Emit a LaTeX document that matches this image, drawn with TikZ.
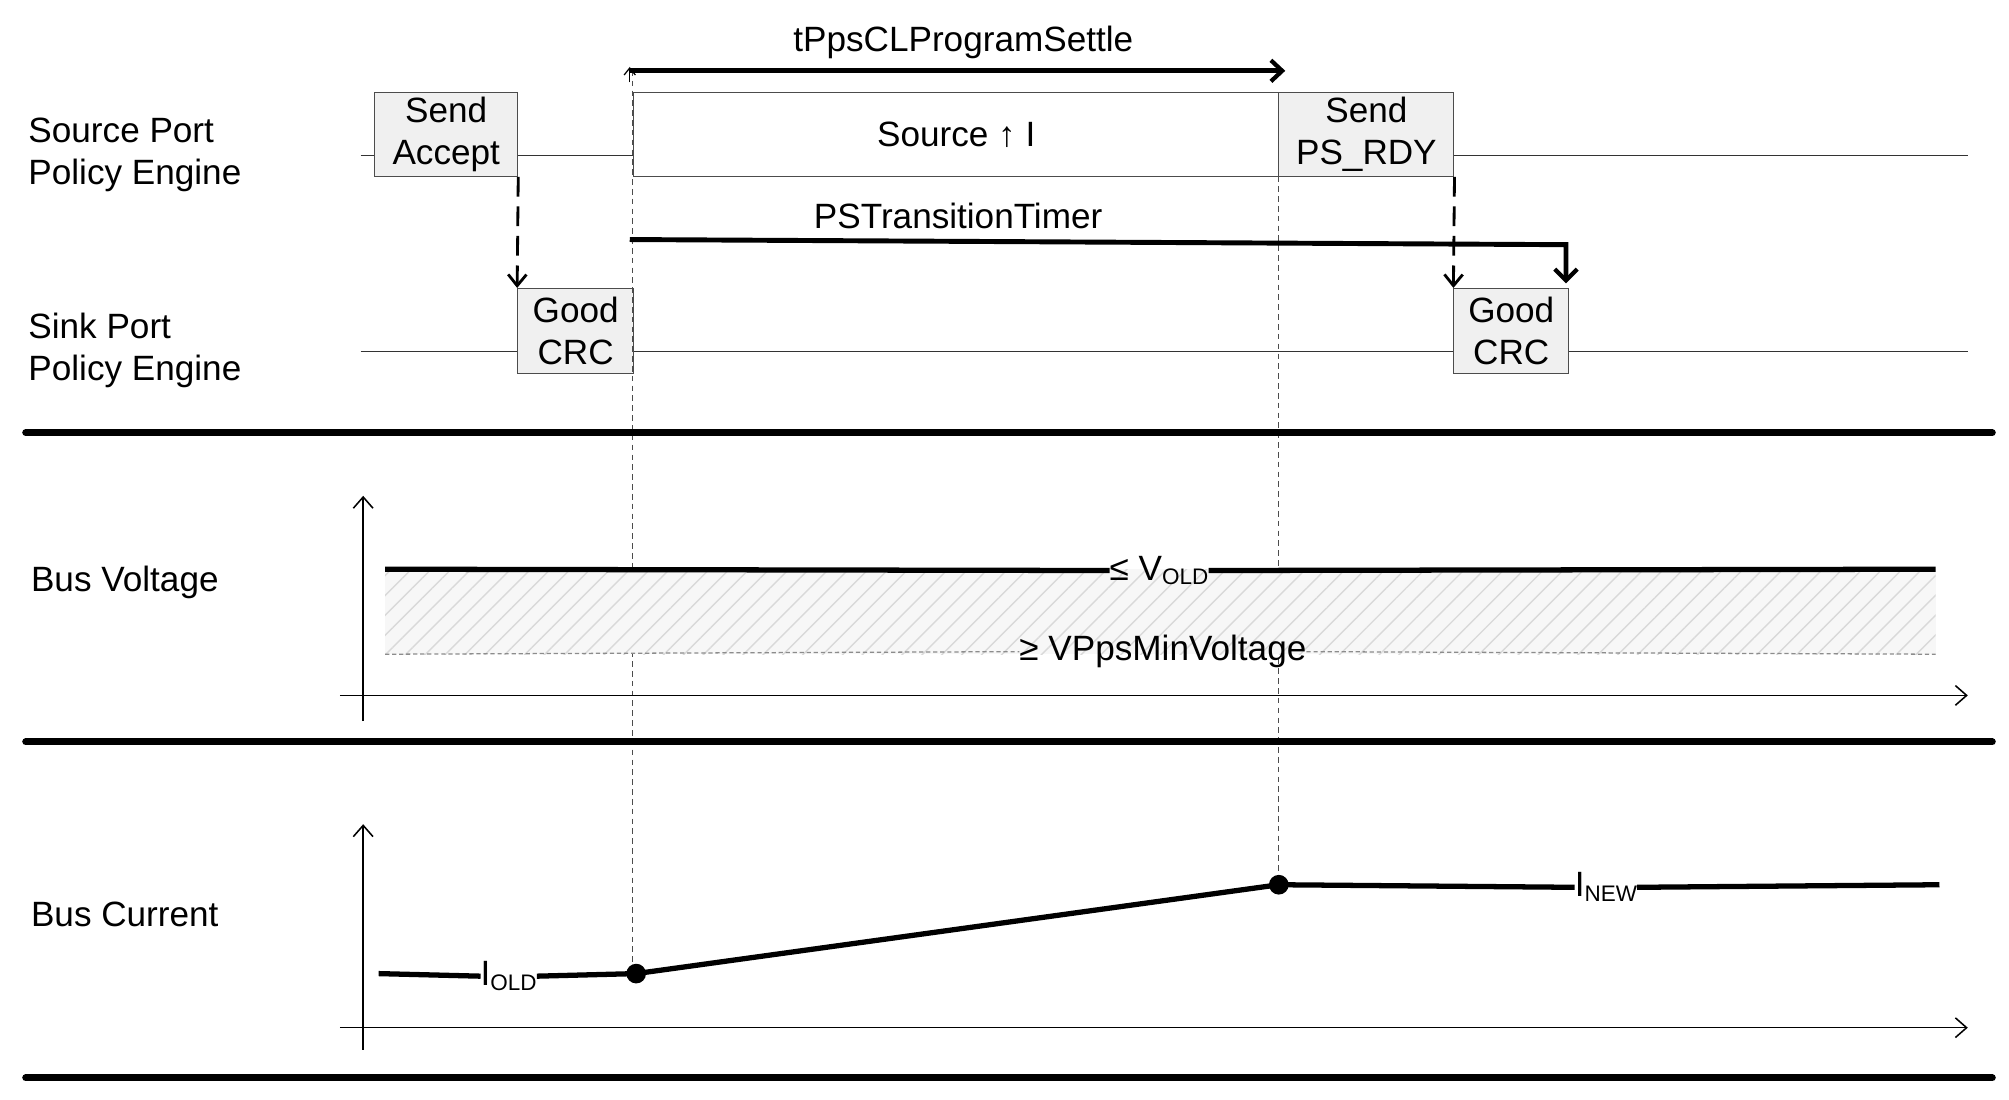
\documentclass[tikz,border=0pt]{standalone}
\usepackage{fontspec}
\setmainfont{Liberation Sans}
\usetikzlibrary{arrows.meta,patterns.meta}
\newcommand\subtx[1]{\raisebox{-7pt}{\fontsize{32}{38}\selectfont #1}}
\begin{document}
\begin{tikzpicture}[x=0.0644cm,y=-0.0644cm,
  txt/.style={font=\fontsize{50}{60}\selectfont,inner sep=0pt,align=center},
  lbl/.style={txt,anchor=west,align=left},
  msg/.style={draw=black!70,line width=1.5pt,fill=black!6,inner sep=0pt,txt},
  thin/.style={line width=1.8pt,black!80},
  sep/.style={line width=10pt,line cap=round},
  vdash/.style={dash pattern=on 8pt off 6pt,line width=1.6pt,black!70},
  mdash/.style={dash pattern=on 28pt off 14pt,line width=4pt,-{Straight Barb[length=16pt,width=26pt,line width=4pt]}},
  timer/.style={line width=7pt},
  sig/.style={line width=7.5pt},
  axis/.style={line width=2.2pt,-{Straight Barb[length=16pt,width=28pt,line width=2.2pt]}},
  dot/.style={circle,fill=black,inner sep=0pt,minimum size=28pt}]
\useasboundingbox (0,0) rectangle (1560,854);
% labels
\node[lbl] (srcl) at (22,120) {Source Port\\Policy Engine};
\node[lbl] (snkl) at (22,272) {Sink Port\\Policy Engine};
\node[lbl] (bvl) at (24,452) {Bus Voltage};
\node[lbl] (bcl) at (24,710) {Bus Current};
% lanes
\coordinate (s0) at (280,121); \coordinate (s1) at (1528,121);
\coordinate (k0) at (280,273); \coordinate (k1) at (1528,273);
\draw[thin] (s0) -- (s1);
\draw[thin] (k0) -- (k1);
% boxes
\node[msg,minimum width=111*0.0644cm,minimum height=65*0.0644cm] (acc) at (346.5,104.5) {Send\\Accept};
\node[msg,minimum width=90*0.0644cm,minimum height=66*0.0644cm] (gc1) at (447,257) {Good\\CRC};
\node[msg,fill=white,minimum width=501*0.0644cm,minimum height=65*0.0644cm] (src) at (742.5,104.5) {Source ↑ I};
\node[msg,minimum width=136*0.0644cm,minimum height=65*0.0644cm] (rdy) at (1061,104.5) {Send\\PS\_RDY};
\node[msg,minimum width=89*0.0644cm,minimum height=66*0.0644cm] (gc2) at (1173.5,257) {Good\\CRC};
% message arrows
\draw[mdash] (acc.south east) -- (gc1.north west);
\draw[mdash] (rdy.south east) -- (gc2.north west);
% vertical dashed guides
\coordinate (g1t) at (491,55); \coordinate (g1b) at (491,756);
\coordinate (g2t) at (993,137); \coordinate (g2b) at (993,687);
\draw[vdash] (g1t) -- (g1b);
\draw[vdash] (g2t) -- (g2b);
% timers
\coordinate (t1a) at (489,64); \coordinate (t1z) at (489,52);
\coordinate (t1b) at (489,55); \coordinate (t1c) at (998,55);
\draw[line width=1.8pt,-{Straight Barb[length=10pt,width=16pt,line width=1.8pt]}] (t1a) -- (t1z);
\draw[timer,-{Straight Barb[length=16pt,width=30pt,line width=6pt]}] (t1b) -- (t1c);
\node[txt] (tps) at (748,33) {tPpsCLProgramSettle};
\coordinate (t2a) at (489,186); \coordinate (t2b) at (1216,190); \coordinate (t2c) at (1216,220);
\draw[timer,-{Straight Barb[length=16pt,width=32pt,line width=6pt]}] (t2a) -- (t2b) -- (t2c);
\node[txt] (pst) at (744,168) {PSTransitionTimer};
% separators
\draw[sep] (20,336) -- (1547,336);
\draw[sep] (20,576) -- (1547,576);
\draw[sep] (20,837) -- (1547,837);
% voltage
\fill[black!3] (299,442) rectangle (1503,508);
\fill[pattern={Lines[angle=45,distance=20pt,line width=2pt]},pattern color=black!15] (299,442) rectangle (1503,508);
\draw[axis] (282,560) -- (282,385);
\draw[axis] (264,540) -- (1528,540);
\node[txt] (vold) at (900,443) {≤ V\subtx{OLD}};
\draw[sig] (299,442) -- (vold.west);
\draw[sig] (vold.east) -- (1503,442);
\node[txt] (vmin) at (903,506) {≥ VPpsMinVoltage};
\draw[dash pattern=on 6pt off 4pt,line width=1.8pt,black!45] (299,508) -- (vmin.west);
\draw[dash pattern=on 6pt off 4pt,line width=1.8pt,black!45] (vmin.east) -- (1503,508);
% current
\draw[axis] (282,815) -- (282,640);
\draw[axis] (264,798) -- (1528,798);
\node[dot] (d1) at (494,756) {};
\node[dot] (d2) at (993,687) {};
\node[txt] (iold) at (395,758) {I\subtx{OLD}};
\node[txt] (inew) at (1247,689) {I\subtx{NEW}};
\coordinate (c0) at (294,756); \coordinate (c3) at (1506,687);
\draw[sig] (c0) -- (iold.west);
\draw[sig] (iold.east) -- (d1.center) -- (d2.center) -- (inew.west);
\draw[sig] (inew.east) -- (c3);
\end{tikzpicture}
\end{document}
